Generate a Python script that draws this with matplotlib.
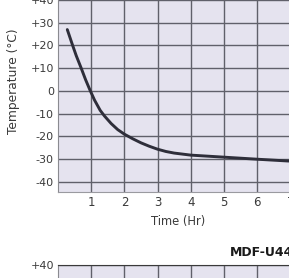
import matplotlib
matplotlib.use("Agg")
import matplotlib.pyplot as plt
import numpy as np

# Data
time_hr = [0.28, 0.43, 0.55, 0.70, 0.83, 0.96, 1.10, 1.27, 1.40, 1.60, 1.80, 2.00, 2.25,
           2.50, 2.75, 3.00, 3.25, 3.50, 4.00, 5.00, 6.00, 6.95]
temp_c = [27.0, 20.5, 15.5, 10.0, 5.0, 0.5, -4.0, -8.5, -11.0, -14.3, -17.0, -19.0, -21.0,
          -22.8, -24.3, -25.6, -26.6, -27.3, -28.2, -29.1, -30.0, -30.8]
x_ticks = [1, 2, 3, 4, 5, 6, 7]
x_ticklabels = ["1", "2", "3", "4", "5", "6", "7"]
y_ticks = [40, 30, 20, 10, 0, -10, -20, -30, -40]
y_ticklabels = ["+40", "+30", "+20", "+10", "0", "-10", "-20", "-30", "-40"]
model_label = "MDF-U443"

W, H = 289, 278
fig = plt.figure(figsize=(W / 100, H / 100), dpi=100)
fig.patch.set_facecolor("white")

bg = "#e5e3ef"
grid_c = "#60606a"
txt_c = "#3a3a3a"

def px_axes(left, top, width, height):
    return [left / W, 1 - (top + height) / H, width / W, height / H]

# Main chart
ax = fig.add_axes(px_axes(58, -9.1, 249, 201.3))
ax.set_facecolor(bg)
ax.set_xlim(0, 7.5)
ax.set_ylim(-44.5, 44)
ax.plot(time_hr, temp_c, color="#2e2e3a", lw=2.1, solid_capstyle="round",
        solid_joinstyle="round")
ax.set_xticks(x_ticks)
ax.set_xticklabels(x_ticklabels, fontsize=8.5, color=txt_c)
ax.set_yticks(y_ticks)
ax.set_yticklabels(y_ticklabels, fontsize=8, color=txt_c)
ax.tick_params(length=0, pad=3)
ax.grid(True, color=grid_c, lw=1.0)
ax.set_axisbelow(True)
for s in ax.spines.values():
    s.set_visible(False)
ax.spines["left"].set_visible(True)
ax.spines["left"].set_color("#8a8a90")
ax.spines["left"].set_linestyle((0, (2, 1)))
ax.spines["bottom"].set_visible(True)
ax.spines["bottom"].set_color("#9a9aa0")
ax.set_xlabel("Time (Hr)", fontsize=8.3, color=txt_c, labelpad=1)
ax.xaxis.set_label_coords((178 - 58) / 249, -0.115)
ax.set_ylabel("Temperature (°C)", fontsize=8.8, color=txt_c, labelpad=2)
ax.yaxis.set_label_coords(-(58 - 20) / 249, (192.2 - 81) / 201.3)

# Model label
fig.text(230 / W, 1 - 253 / H, model_label, fontsize=9, fontweight="bold",
         color="#1a1a1a", ha="left", va="center")

# Second chart (partially visible)
ax2 = fig.add_axes(px_axes(58, 265, 249, 150))
ax2.set_facecolor(bg)
ax2.set_xlim(0, 7.5)
ax2.set_ylim(40 - 150 / 2.27, 40)
ax2.set_xticks(x_ticks)
ax2.set_xticklabels([])
ax2.set_yticks(y_ticks)
ax2.set_yticklabels(y_ticklabels, fontsize=8, color=txt_c)
ax2.tick_params(length=0, pad=3)
ax2.grid(True, color=grid_c, lw=1.0)
for s in ax2.spines.values():
    s.set_visible(False)
ax2.spines["top"].set_visible(True)
ax2.spines["top"].set_color("#3a3a3a")
ax2.spines["left"].set_visible(True)
ax2.spines["left"].set_color("#8a8a90")

fig.savefig("out.png", dpi=100)
